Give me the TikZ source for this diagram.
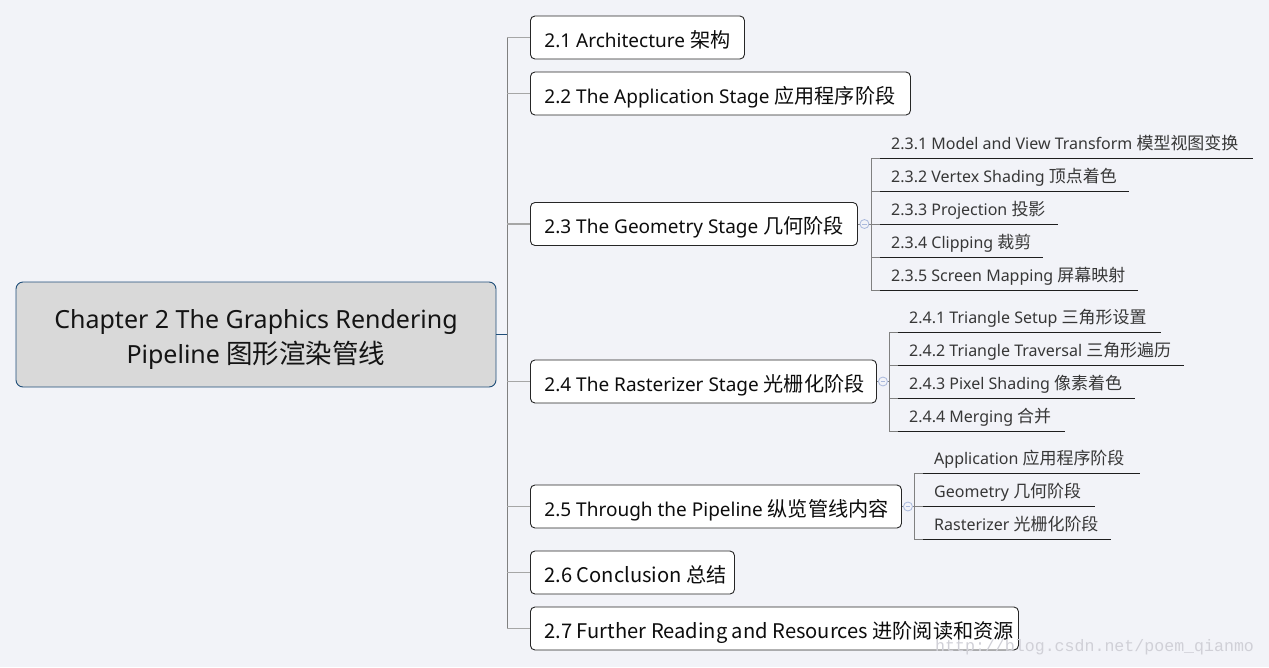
\documentclass[tikz,border=0pt]{standalone}
\usepackage{fontspec}
\setmainfont{Noto Sans}
\newfontfamily\cjk[Scale=1.06]{Noto Sans CJK SC}
\newfontfamily\wmfont{Liberation Mono}
\usetikzlibrary{calc}
\definecolor{bg}{RGB}{242,243,248}
\definecolor{rootfill}{RGB}{217,217,217}
\definecolor{rootblue}{RGB}{31,78,121}
\definecolor{spinecol}{RGB}{128,128,128}
\definecolor{branchcol}{RGB}{166,166,166}
\definecolor{subtext}{RGB}{55,55,55}
\definecolor{ulinecol}{RGB}{30,30,30}
\definecolor{collcol}{RGB}{170,185,220}
\definecolor{wmcol}{RGB}{208,208,215}
\newcommand\lefttxt[2]{\makebox[#1pt][l]{#2}}
\begin{document}
\begin{tikzpicture}[x=1pt,y=-1pt,
  rootbox/.style={draw=rootblue, fill=rootfill, rounded corners=7pt, line width=0.9pt,
    minimum width=480pt, minimum height=105pt, align=center, inner sep=0pt,
    font=\fontsize{25}{35}\selectfont, text=black!92},
  topic/.style={draw=black!85, fill=white, rounded corners=4.5pt, line width=0.9pt,
    minimum height=43pt, inner xsep=14pt, inner ysep=0pt, anchor=west,
    font=\fontsize{19}{22}\selectfont, text=black!95, text height=20pt, text depth=1pt},
  sub/.style={anchor=south west, minimum height=30pt, inner xsep=11pt, inner ysep=0pt,
    font=\fontsize{16}{19}\selectfont, text=subtext, text height=15pt, text depth=2pt},
  spine/.style={draw=spinecol, line width=1pt},
  branch/.style={draw=branchcol, line width=1.2pt},
  rootc/.style={draw=rootblue, line width=1pt},
  brk/.style={draw=spinecol, line width=1pt},
  uline/.style={draw=ulinecol, line width=1pt},
  collapse/.style={circle, draw=collcol, fill=bg, line width=0.8pt, minimum size=9pt, inner sep=0pt,
    path picture={\draw[collcol, line width=0.8pt] ([xshift=2.2pt]path picture bounding box.west) -- ([xshift=-2.2pt]path picture bounding box.east);}},
  wm/.style={anchor=west, font=\wmfont\fontsize{16.6}{18}\selectfont, text=wmcol, inner sep=0pt}
]
\fill[bg] (0,0) rectangle (1269,667);
\useasboundingbox (0,0) rectangle (1269,667);

% root
\node[rootbox] (root) at (256,334.5) {\rule{0pt}{29pt}Chapter 2 The Graphics Rendering\\Pipeline {\cjk 图形渲染管线}};

% level 1
\node[topic] (t21) at (530,37.5) {\lefttxt{186}{2.1 Architecture {\cjk 架构}}};
\node[topic] (t22) at (530,93.5) {\lefttxt{352}{2.2 The Application Stage {\cjk 应用程序阶段}}};
\node[topic] (t23) at (530,224) {\lefttxt{299}{2.3 The Geometry Stage {\cjk 几何阶段}}};
\node[topic] (t24) at (530,381.5) {\lefttxt{318}{2.4 The Rasterizer Stage {\cjk 光栅化阶段}}};
\node[topic] (t25) at (530,506.5) {\lefttxt{343}{2.5 Through the Pipeline {\cjk 纵览管线内容}}};
\node[topic] (t26) at (530,572.5) {\lefttxt{176}{{\cjk 2.6 Conclusion 总结}}};
\node[topic] (t27) at (530,628.5) {\lefttxt{460}{{\cjk 2.7 Further Reading and Resources 进阶阅读和资源}}};

\coordinate (sp) at (507,0);
\draw[spine] (t21.west -| sp) -- (t27.west -| sp);
\foreach \t in {t21,t22,t23,t24,t25,t26,t27}{
  \draw[branch] (\t.west -| sp) -- (\t.west);
}
\draw[rootc] (root.east) -- (root.east -| sp);

% 2.3 subtopics
\node[sub] (s231) at (880,158) {\lefttxt{351}{2.3.1 Model and View Transform {\cjk 模型视图变换}}};
\node[sub] (s232) at (880,191) {\lefttxt{227}{2.3.2 Vertex Shading {\cjk 顶点着色}}};
\node[sub] (s233) at (880,224) {\lefttxt{156}{2.3.3 Projection {\cjk 投影}}};
\node[sub] (s234) at (880,257) {\lefttxt{141}{2.3.4 Clipping {\cjk 裁剪}}};
\node[sub] (s235) at (880,290) {\lefttxt{236}{2.3.5 Screen Mapping {\cjk 屏幕映射}}};
\coordinate (v23) at (871,0);
\draw[brk] (s231.south west -| v23) -- (s235.south west -| v23);
\foreach \s in {s231,s232,s233,s234,s235}{
  \draw[brk] (\s.south west -| v23) -- (\s.south west);
  \draw[uline] (\s.south west) -- (\s.south east);
}
\draw[brk] (t23.east) -- (t23.east -| v23);
\node[collapse] (c23) at ($(t23.east)!0.5!(t23.east -| v23)$) {};

% 2.4 subtopics
\node[sub] (s241) at (898,332) {\lefttxt{241}{2.4.1 Triangle Setup {\cjk 三角形设置}}};
\node[sub] (s242) at (898,365) {\lefttxt{264}{2.4.2 Triangle Traversal {\cjk 三角形遍历}}};
\node[sub] (s243) at (898,398) {\lefttxt{215}{2.4.3 Pixel Shading {\cjk 像素着色}}};
\node[sub] (s244) at (898,431) {\lefttxt{145}{2.4.4 Merging {\cjk 合并}}};
\coordinate (v24) at (889,0);
\draw[brk] (s241.south west -| v24) -- (s244.south west -| v24);
\foreach \s in {s241,s242,s243,s244}{
  \draw[brk] (\s.south west -| v24) -- (\s.south west);
  \draw[uline] (\s.south west) -- (\s.south east);
}
\draw[brk] (t24.east) -- (t24.east -| v24);
\node[collapse] (c24) at ($(t24.east)!0.5!(t24.east -| v24)$) {};

% 2.5 subtopics
\node[sub] (s251) at (923,473) {\lefttxt{195}{Application {\cjk 应用程序阶段}}};
\node[sub] (s252) at (923,506) {\lefttxt{150}{Geometry {\cjk 几何阶段}}};
\node[sub] (s253) at (923,539) {\lefttxt{166}{Rasterizer {\cjk 光栅化阶段}}};
\coordinate (v25) at (914,0);
\draw[brk] (s251.south west -| v25) -- (s253.south west -| v25);
\foreach \s in {s251,s252,s253}{
  \draw[brk] (\s.south west -| v25) -- (\s.south west);
  \draw[uline] (\s.south west) -- (\s.south east);
}
\draw[brk] (t25.east) -- (t25.east -| v25);
\node[collapse] (c25) at ($(t25.east)!0.5!(t25.east -| v25)$) {};

% watermark
\node[wm] (wm) at (935,647) {http://blog.csdn.net/poem\_qianmo};
\end{tikzpicture}
\end{document}
